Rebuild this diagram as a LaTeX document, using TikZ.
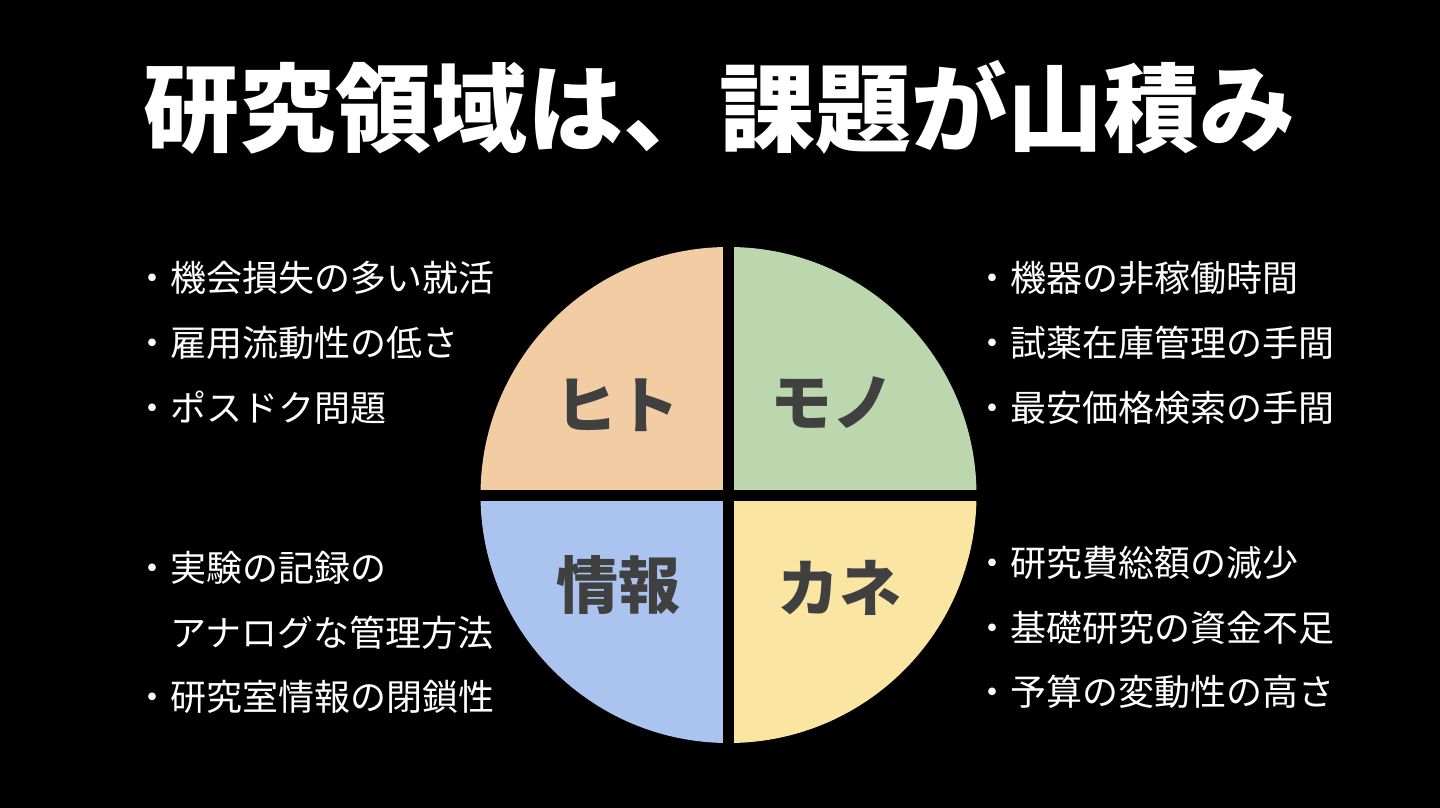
\documentclass[tikz,border=0pt]{standalone}
\usepackage{fontspec}
\setmainfont{Noto Sans CJK JP}
\definecolor{peach}{RGB}{242,204,162}
\definecolor{sage}{RGB}{188,214,174}
\definecolor{skyblue}{RGB}{170,196,239}
\definecolor{butter}{RGB}{250,229,162}
\definecolor{labelgray}{RGB}{64,64,64}
\tikzset{
  titletext/.style={text=white, inner sep=0pt, font=\fontsize{96}{110}\selectfont\bfseries},
  itemtext/.style={text=white, inner sep=0pt, anchor=west, font=\fontsize{36}{44}\selectfont},
  quadlabel/.style={text=labelgray, inner sep=0pt, font=\fontsize{62}{70}\selectfont\bfseries},
  gapline/.style={draw=black, line width=11pt}
}
\begin{document}
\begin{tikzpicture}[x=1pt,y=-1pt]
\fill[black] (0,0) rectangle (1440,808);
\useasboundingbox (0,0) rectangle (1440,808);
% title
\node[titletext] (title) at (719,107) {研究領域は、課題が山積み};
% pie
\coordinate (c) at (728.5,495);
\fill[peach]   (c) -- ++(-248,0) arc[start angle=180, end angle=270, radius=248] -- cycle;
\fill[sage]    (c) -- ++(0,-248) arc[start angle=270, end angle=360, radius=248] -- cycle;
\fill[butter]  (c) -- ++(248,0) arc[start angle=0, end angle=90, radius=248] -- cycle;
\fill[skyblue] (c) -- ++(0,248) arc[start angle=90, end angle=180, radius=248] -- cycle;
\draw[gapline] ([xshift=-252pt]c) -- ([xshift=252pt]c);
\draw[gapline] ([yshift=-252pt]c) -- ([yshift=252pt]c);
% quadrant labels
\node[quadlabel] (hito)  at (617,405) {ヒト};
\node[quadlabel] (mono)  at (832,403) {モノ};
\node[quadlabel] (joho)  at (618,585) {情報};
\node[quadlabel] (kane)  at (839,588) {カネ};
% left lists
\node[itemtext] (l1) at (134,278) {・機会損失の多い就活};
\node[itemtext] (l2) at (134,343) {・雇用流動性の低さ};
\node[itemtext] (l3) at (134,408) {・ポスドク問題};
\node[itemtext] (l4) at (134,568) {・実験の記録の};
\node[itemtext] (l5) at (170,633) {アナログな管理方法};
\node[itemtext] (l6) at (134,697) {・研究室情報の閉鎖性};
% right lists
\node[itemtext] (r1) at (974,278) {・機器の非稼働時間};
\node[itemtext] (r2) at (974,343) {・試薬在庫管理の手間};
\node[itemtext] (r3) at (974,408) {・最安価格検索の手間};
\node[itemtext] (r4) at (974,563) {・研究費総額の減少};
\node[itemtext] (r5) at (974,628) {・基礎研究の資金不足};
\node[itemtext] (r6) at (974,692) {・予算の変動性の高さ};
\end{tikzpicture}
\end{document}
